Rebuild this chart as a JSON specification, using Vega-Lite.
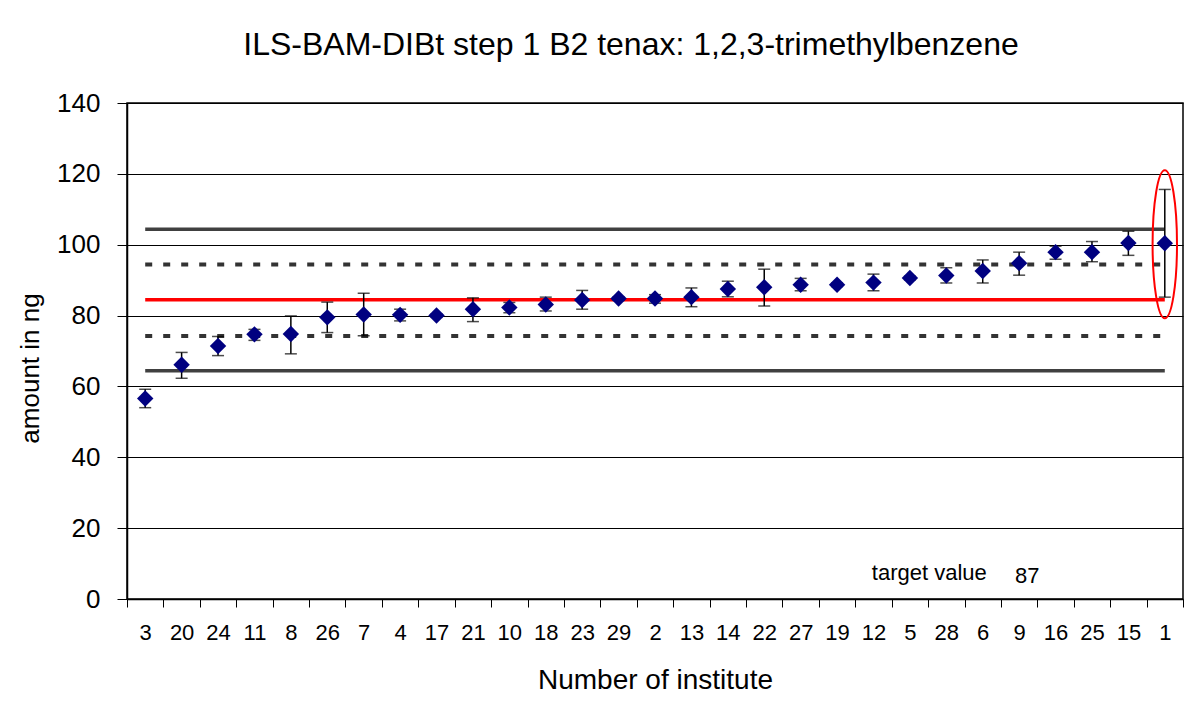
{
  "$schema": "https://vega.github.io/schema/vega-lite/v6.json",
  "autosize": "none",
  "width": 1056,
  "height": 496,
  "padding": {"left": 127, "top": 103, "right": 13, "bottom": 103},
  "background": "white",
  "config": {
    "font": "Liberation Sans",
    "view": {"stroke": "black", "strokeWidth": 1.5},
    "axis": {"labelColor": "black", "titleColor": "black", "domainColor": "black", "tickColor": "black", "labelFont": "Liberation Sans", "titleFont": "Liberation Sans", "titleFontWeight": "normal"}
  },
  "title": {
    "text": "ILS-BAM-DIBt step 1 B2 tenax: 1,2,3-trimethylbenzene",
    "font": "Liberation Sans",
    "fontSize": 32,
    "fontWeight": "normal",
    "color": "black",
    "anchor": "middle",
    "dx": -24,
    "offset": 28
  },
  "datasets": {
    "inst": [
      {"inst": "3", "v": 56.6, "lo": 54.0, "hi": 59.2},
      {"inst": "20", "v": 66.1, "lo": 62.3, "hi": 69.6},
      {"inst": "24", "v": 71.4, "lo": 68.7, "hi": 74.1},
      {"inst": "11", "v": 74.7, "lo": 73.0, "hi": 76.1},
      {"inst": "8", "v": 74.8, "lo": 69.2, "hi": 79.9},
      {"inst": "26", "v": 79.5, "lo": 75.2, "hi": 83.8},
      {"inst": "7", "v": 80.3, "lo": 74.3, "hi": 86.3},
      {"inst": "4", "v": 80.2, "lo": 78.5, "hi": 81.8},
      {"inst": "17", "v": 80.0, "lo": 79.5, "hi": 80.5},
      {"inst": "21", "v": 81.8, "lo": 78.3, "hi": 85.0},
      {"inst": "10", "v": 82.3, "lo": 80.8, "hi": 83.7},
      {"inst": "18", "v": 83.1, "lo": 81.3, "hi": 85.2},
      {"inst": "23", "v": 84.4, "lo": 81.8, "hi": 87.1},
      {"inst": "29", "v": 84.8, "lo": 84.3, "hi": 85.3},
      {"inst": "2", "v": 84.8, "lo": 83.5, "hi": 85.9},
      {"inst": "13", "v": 85.2, "lo": 82.5, "hi": 87.8},
      {"inst": "14", "v": 87.5, "lo": 85.3, "hi": 89.7},
      {"inst": "22", "v": 88.0, "lo": 82.7, "hi": 93.1},
      {"inst": "27", "v": 88.7, "lo": 87.0, "hi": 90.5},
      {"inst": "19", "v": 88.7, "lo": 88.2, "hi": 89.2},
      {"inst": "12", "v": 89.3, "lo": 87.0, "hi": 91.7},
      {"inst": "5", "v": 90.6, "lo": 90.1, "hi": 91.1},
      {"inst": "28", "v": 91.3, "lo": 89.2, "hi": 93.5},
      {"inst": "6", "v": 92.6, "lo": 89.2, "hi": 95.7},
      {"inst": "9", "v": 94.8, "lo": 91.4, "hi": 97.9},
      {"inst": "16", "v": 97.9, "lo": 95.9, "hi": 99.6},
      {"inst": "25", "v": 97.9, "lo": 95.2, "hi": 100.9},
      {"inst": "15", "v": 100.5, "lo": 97.0, "hi": 103.8},
      {"inst": "1", "v": 100.4, "lo": 85.2, "hi": 115.6}
    ],
    "lines": [
      {"inst": "3", "y": 104.4, "kind": "solid", "g": "u2"},
      {"inst": "1", "y": 104.4, "kind": "solid", "g": "u2"},
      {"inst": "3", "y": 64.4, "kind": "solid", "g": "l2"},
      {"inst": "1", "y": 64.4, "kind": "solid", "g": "l2"},
      {"inst": "3", "y": 94.4, "kind": "dotted", "g": "u1"},
      {"inst": "1", "y": 94.4, "kind": "dotted", "g": "u1"},
      {"inst": "3", "y": 74.2, "kind": "dotted", "g": "l1"},
      {"inst": "1", "y": 74.2, "kind": "dotted", "g": "l1"},
      {"inst": "3", "y": 84.5, "kind": "target", "g": "t"},
      {"inst": "1", "y": 84.5, "kind": "target", "g": "t"}
    ],
    "notes": [
      {"inst": "28", "y": 7.3, "label": "target value", "kind": "a"},
      {"inst": "9", "y": 6.6, "label": "87", "kind": "b"}
    ],
    "ellipse": [
      {"inst": "1", "y": 100.1}
    ]
  },
  "encoding": {
    "x": {
      "field": "inst",
      "type": "nominal",
      "scale": {
        "domain": ["3", "20", "24", "11", "8", "26", "7", "4", "17", "21", "10", "18", "23", "29", "2", "13", "14", "22", "27", "19", "12", "5", "28", "6", "9", "16", "25", "15", "1"],
        "paddingInner": 0,
        "paddingOuter": 0
      },
      "axis": {
        "title": "Number of institute",
        "titleFontSize": 28,
        "titleBaseline": "alphabetic",
        "titleY": 89,
        "labelAngle": 0,
        "labelFontSize": 22,
        "labelPadding": 15,
        "tickBand": "extent",
        "tickSize": 8,
        "domainWidth": 1.5,
        "grid": false
      }
    }
  },
  "layer": [
    {
      "data": {"name": "lines"},
      "transform": [{"filter": "datum.kind === 'solid'"}],
      "mark": {"type": "line", "color": "#404040", "strokeWidth": 3.5},
      "encoding": {
        "y": {"field": "y", "type": "quantitative"},
        "detail": {"field": "g"}
      }
    },
    {
      "data": {"name": "lines"},
      "transform": [{"filter": "datum.kind === 'dotted'"}],
      "mark": {"type": "line", "color": "#333333", "strokeWidth": 4, "strokeDash": [7, 11]},
      "encoding": {
        "y": {"field": "y", "type": "quantitative"},
        "detail": {"field": "g"}
      }
    },
    {
      "data": {"name": "lines"},
      "transform": [{"filter": "datum.kind === 'target'"}],
      "mark": {"type": "line", "color": "#ff0000", "strokeWidth": 3.5},
      "encoding": {
        "y": {"field": "y", "type": "quantitative"},
        "detail": {"field": "g"}
      }
    },
    {
      "data": {"name": "inst"},
      "mark": {"type": "rule", "color": "black", "strokeWidth": 1.5},
      "encoding": {
        "y": {
          "field": "lo",
          "type": "quantitative",
          "scale": {"domain": [0, 140], "nice": false},
          "axis": {
            "title": "amount in ng",
            "titleFontSize": 26,
            "titleX": -89,
            "titleY": 265,
            "titleAlign": "center",
            "titleBaseline": "alphabetic",
            "titleAngle": -90,
            "values": [0, 20, 40, 60, 80, 100, 120, 140],
            "labelFontSize": 26,
            "labelPadding": 17,
            "tickSize": 10,
            "domainWidth": 1.5,
            "grid": true,
            "gridColor": "black",
            "gridWidth": 1,
            "gridOpacity": 1
          }
        },
        "y2": {"field": "hi"}
      }
    },
    {
      "data": {"name": "inst"},
      "mark": {"type": "tick", "color": "black", "thickness": 1.5, "size": 12},
      "encoding": {"y": {"field": "lo", "type": "quantitative"}}
    },
    {
      "data": {"name": "inst"},
      "mark": {"type": "tick", "color": "black", "thickness": 1.5, "size": 12},
      "encoding": {"y": {"field": "hi", "type": "quantitative"}}
    },
    {
      "data": {"name": "inst"},
      "mark": {"type": "point", "shape": "diamond", "filled": true, "color": "#000080", "size": 270, "opacity": 1},
      "encoding": {"y": {"field": "v", "type": "quantitative"}}
    },
    {
      "data": {"name": "ellipse"},
      "mark": {"type": "point", "shape": "M0,-1 A0.165,1 0 1,1 0,1 A0.165,1 0 1,1 0,-1 Z", "filled": false, "stroke": "#ff0000", "strokeWidth": 2, "size": 21904, "opacity": 1},
      "encoding": {"y": {"field": "y", "type": "quantitative"}}
    },
    {
      "data": {"name": "notes"},
      "transform": [{"filter": "datum.kind === 'a'"}],
      "mark": {"type": "text", "fontSize": 22, "color": "black", "dx": -17, "baseline": "middle", "font": "Liberation Sans"},
      "encoding": {"y": {"field": "y", "type": "quantitative"}, "text": {"field": "label"}}
    },
    {
      "data": {"name": "notes"},
      "transform": [{"filter": "datum.kind === 'b'"}],
      "mark": {"type": "text", "fontSize": 22, "color": "black", "dx": 8, "baseline": "middle"},
      "encoding": {"y": {"field": "y", "type": "quantitative"}, "text": {"field": "label"}}
    }
  ]
}
